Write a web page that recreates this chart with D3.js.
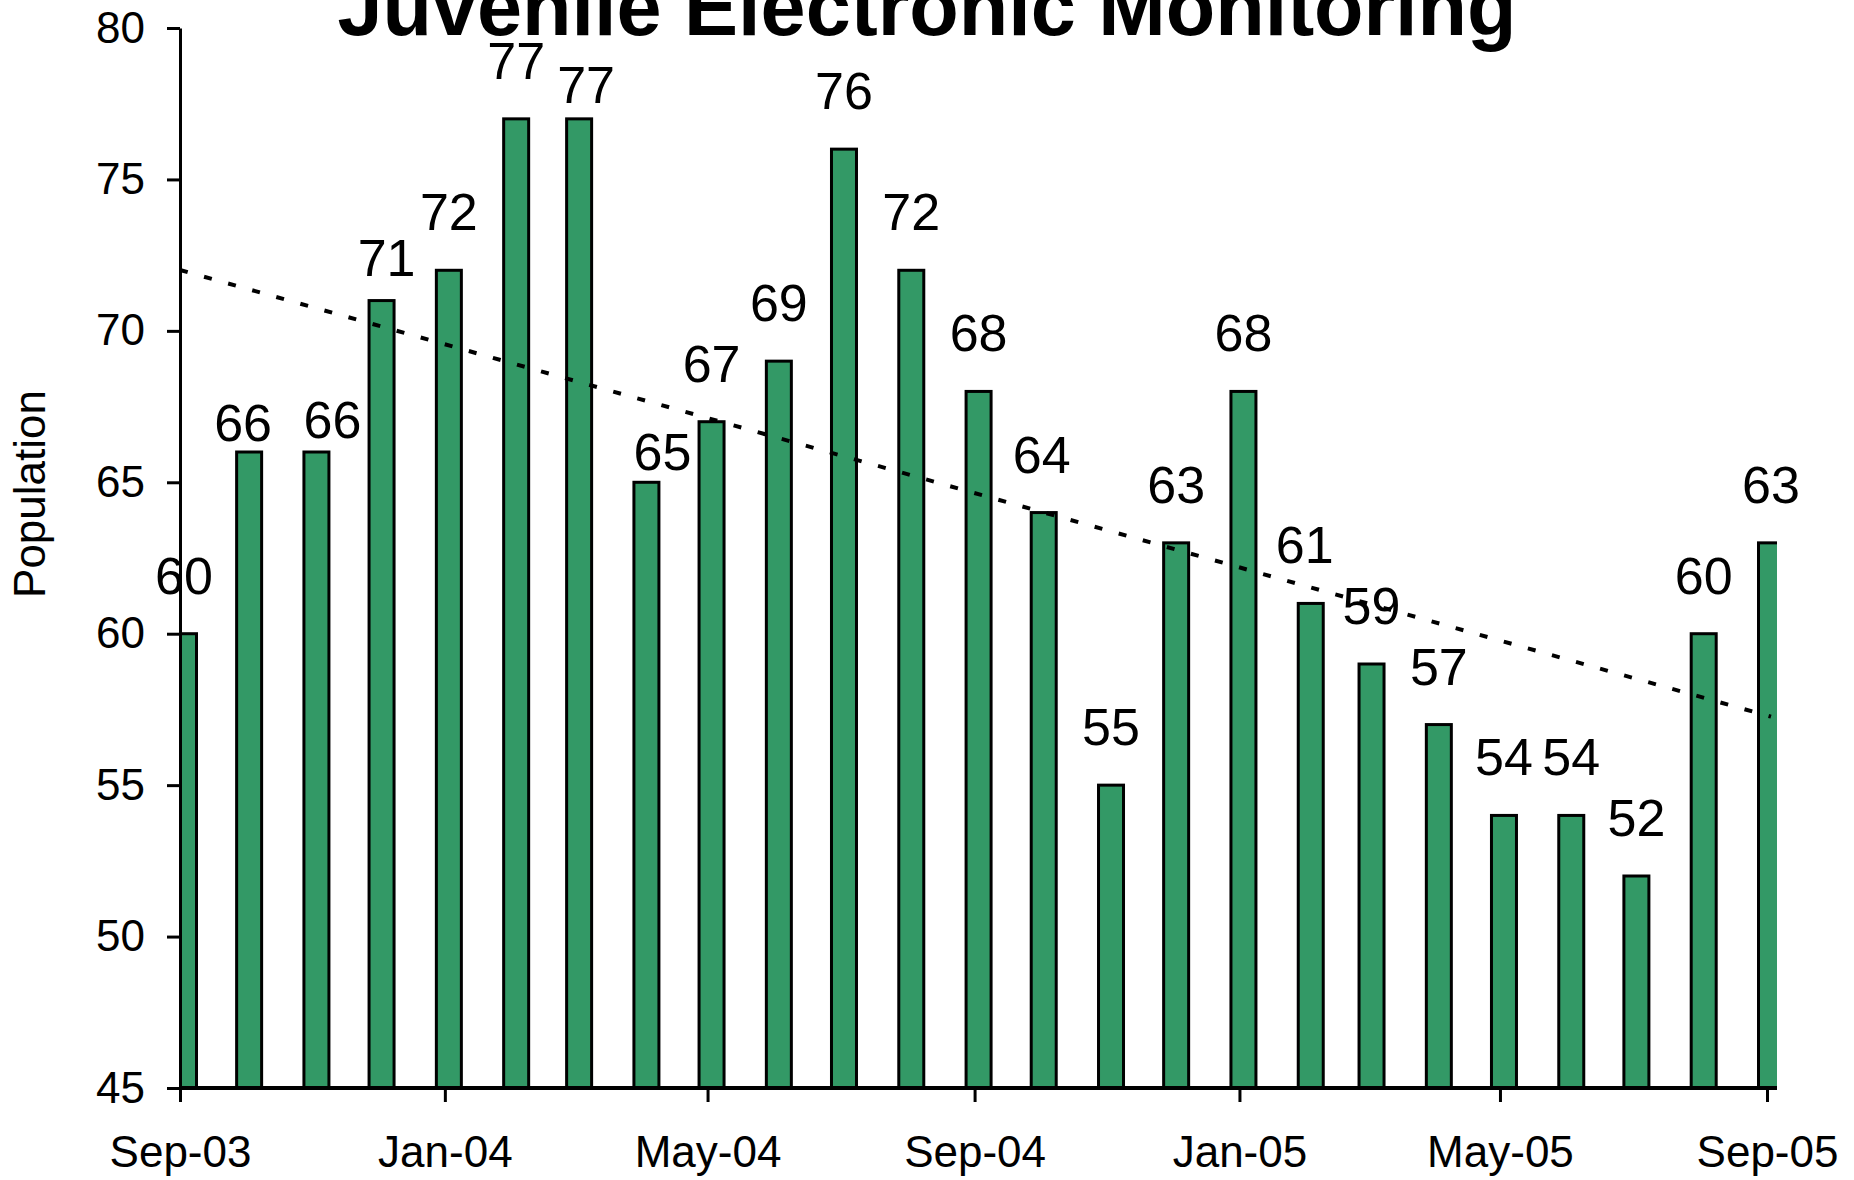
<!DOCTYPE html>
<html>
<head>
<meta charset="utf-8">
<script src="https://cdn.jsdelivr.net/npm/d3@7"></script>
<style>
  html, body { margin: 0; padding: 0; background: #fff; }
  svg { display: block; font-family: "Liberation Sans", Arial, sans-serif; }
</style>
</head>
<body>
<svg id="chart" width="1854" height="1180"></svg>
<script>
// ---- data ----
const title = "Juvenile Electronic Monitoring";
const yLabel = "Population";
const months = ["2003-09","2003-10","2003-11","2003-12","2004-01","2004-02","2004-03","2004-04","2004-05","2004-06","2004-07","2004-08","2004-09","2004-10","2004-11","2004-12","2005-01","2005-02","2005-03","2005-04","2005-05","2005-06","2005-07","2005-08","2005-09"];
const population = [60,66,66,71,72,77,77,65,67,69,76,72,68,64,55,63,68,61,59,57,54,54,52,60,63];
const yTicks = [45,50,55,60,65,70,75,80];
const xTickMonths = ["2003-09","2004-01","2004-05","2004-09","2005-01","2005-05","2005-09"];
// manual label nudges (px) for data labels that were moved in the original
const labelNudge = [[0,0],[-6,29],[16,26],[5,15],[0,0],[0,0],[7,24],[16,28],[0,0],[0,0],[0,0],[0,0],[0,0],[-2,0],[0,0],[0,0],[0,0],[-6,0],[0,0],[0,0],[0,0],[0,0],[0,0],[0,0],[0,0]];

(function () {
// ---- layout ----
const parse = d3.timeParse("%Y-%m");
const fmt = d3.timeFormat("%b-%y");
const dates = months.map(parse);
const mL = 180, mR = 1767, plotRight = 1777, mT = 28, mB = 1088;
const barOffset = 4, barW = 25;

const x = d3.scaleTime().domain([dates[0], dates[dates.length - 1]]).range([mL, mR]);
const y = d3.scaleLinear().domain([45, 80]).range([mB, mT]);

const svg = d3.select("#chart");

svg.append("defs").append("clipPath").attr("id", "plotClip")
  .append("rect").attr("x", mL).attr("y", 0).attr("width", plotRight - mL).attr("height", mB + 2);

// bars
svg.append("g").attr("clip-path", "url(#plotClip)")
  .selectAll("rect").data(population).join("rect")
  .attr("x", (d, i) => x(dates[i]) + barOffset - barW / 2)
  .attr("y", d => y(d))
  .attr("width", barW)
  .attr("height", d => mB - y(d))
  .attr("fill", "#339966")
  .attr("stroke", "#000")
  .attr("stroke-width", 3);

// linear trendline (least squares on the data)
const xs = dates.map(d => +d), n = xs.length;
const mx = d3.mean(xs), my = d3.mean(population);
const slope = d3.sum(xs, (v, i) => (v - mx) * (population[i] - my)) / d3.sum(xs, v => (v - mx) * (v - mx));
const icpt = my - slope * mx;
const trend = [dates[0], dates[n - 1]];
svg.append("line")
  .attr("x1", x(trend[0])).attr("y1", y(icpt + slope * +trend[0]))
  .attr("x2", x(trend[1]) + barOffset).attr("y2", y(icpt + slope * +trend[1]))
  .attr("stroke", "#000").attr("stroke-width", 4).attr("stroke-dasharray", "8,17");

// axes
const yAxis = d3.axisLeft(y).tickValues(yTicks).tickSizeInner(13).tickSizeOuter(0).tickPadding(22);
const gy = svg.append("g").attr("transform", `translate(${mL},0)`).call(yAxis);
gy.select(".domain").attr("stroke-width", 3);
gy.selectAll(".tick line").attr("stroke-width", 3);
gy.selectAll("text").attr("font-size", 44).attr("fill", "#000").attr("font-family", "Liberation Sans, Arial, sans-serif");

const xAxis = d3.axisBottom(x).tickValues(xTickMonths.map(parse)).tickFormat(fmt).tickSizeInner(14).tickSizeOuter(0).tickPadding(34);
const gx = svg.append("g").attr("transform", `translate(0,${mB})`).call(xAxis);
gx.select(".domain").attr("d", `M${mL},0H${plotRight}`).attr("stroke-width", 4);
gx.selectAll(".tick line").attr("stroke-width", 3);
gx.selectAll("text").attr("font-size", 44).attr("fill", "#000").attr("font-family", "Liberation Sans, Arial, sans-serif");

// data labels
svg.append("g").selectAll("text").data(population).join("text")
  .attr("x", (d, i) => x(dates[i]) + barOffset + labelNudge[i][0])
  .attr("y", (d, i) => y(d) - 40 + labelNudge[i][1])
  .attr("text-anchor", "middle")
  .attr("font-size", 52)
  .attr("fill", "#000")
  .text(d => d);

// title
svg.append("text").attr("x", 927).attr("y", 35).attr("text-anchor", "middle")
  .attr("font-size", 81).attr("font-weight", "bold").attr("fill", "#000").text(title);

// y label
svg.append("text").attr("transform", "translate(45,494) rotate(-90)")
  .attr("text-anchor", "middle").attr("font-size", 44).attr("fill", "#000").text(yLabel);
})();
</script>
</body>
</html>
